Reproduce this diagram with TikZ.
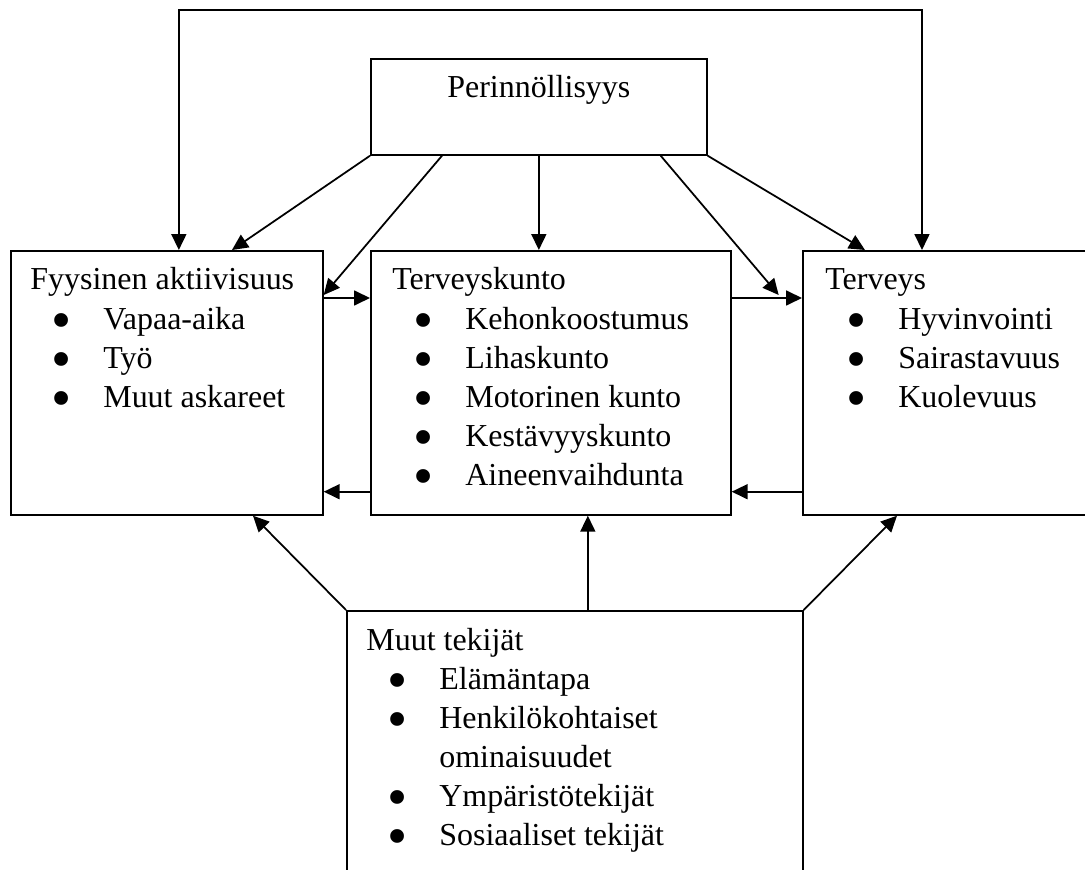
\documentclass[tikz,border=0pt]{standalone}
\usepackage{fontspec}
\setmainfont{Liberation Serif}
\usetikzlibrary{arrows.meta}
\newcommand{\itm}[1]{\\\hspace*{0.42cm}\makebox[1.04cm][l]{\smash{\raisebox{-6.2pt}{\scalebox{1.8}{\textbullet}}}}#1}
\newcommand{\more}[1]{\\\hspace*{1.46cm}#1}
\newcommand{\boxlist}[2]{\begin{tabular}[t]{@{}l@{}}#1#2\end{tabular}}

\begin{document}
\begin{tikzpicture}[x=0.02cm,y=-0.02cm,>={Triangle[length=0.32cm,width=0.3cm]},
  box/.style={draw,line width=1pt,rectangle,inner sep=0pt,anchor=north west},
  txt/.style={anchor=base west,inner sep=0pt,font=\fontsize{18.2}{22.2}\selectfont},
  link/.style={->,line width=1pt}]
  \useasboundingbox (0,0) rectangle (1085,869);
  \clip (0,0) rectangle (1085,869);
  % boxes
  \node[box,minimum width=6.72cm,minimum height=1.92cm] (per) at (370,58) {};
  \node[box,minimum width=6.24cm,minimum height=5.28cm] (fa) at (10,250) {};
  \node[box,minimum width=7.2cm,minimum height=5.28cm] (tk) at (370,250) {};
  \node[box,minimum width=6cm,minimum height=5.28cm] (ter) at (802,250) {};
  \node[box,minimum width=9.12cm,minimum height=6cm] (muut) at (346,610) {};
  \coordinate (top) at (540,10);
  \coordinate (gap) at ([xshift=0.94cm,yshift=-0.9cm]tk.north east);
  % texts
  \node[txt,anchor=base] at ([yshift=-0.8cm]per.north) {Perinnöllisyys};
  \node[txt] at ([xshift=0.4cm,yshift=-0.8cm]fa.north west)
    {\boxlist{Fyysinen aktiivisuus}{\itm{Vapaa-aika}\itm{Työ}\itm{Muut askareet}}};
  \node[txt] at ([xshift=0.44cm,yshift=-0.8cm]tk.north west)
    {\boxlist{Terveyskunto}{\itm{Kehonkoostumus}\itm{Lihaskunto}\itm{Motorinen kunto}%
      \itm{Kestävyyskunto}\itm{Aineenvaihdunta}}};
  \node[txt] at ([xshift=0.46cm,yshift=-0.8cm]ter.north west)
    {\boxlist{Terveys}{\itm{Hyvinvointi}\itm{Sairastavuus}\itm{Kuolevuus}}};
  \node[txt] at ([xshift=0.4cm,yshift=-0.8cm]muut.north west)
    {\boxlist{Muut tekijät}{\itm{Elämäntapa}\itm{Henkilökohtaiset}\more{ominaisuudet}%
      \itm{Ympäristötekijät}\itm{Sosiaaliset tekijät}}};
  % arrows
  \draw[link,<->] ([xshift=0.24cm]fa.north) |- (top) -| ([xshift=2.4cm]ter.north west);
  \draw[link] (per.south west) -- ([xshift=4.44cm]fa.north west);
  \draw[link] ([xshift=1.44cm]per.south west) -- ([yshift=-0.9cm]fa.north east);
  \draw[link] (per.south) -- (per.south |- tk.north);
  \draw[link] ([xshift=-0.94cm]per.south east) -- (gap);
  \draw[link] (per.south east) -- ([xshift=1.26cm]ter.north west);
  \draw[link] ([yshift=-0.96cm]fa.north east) -- ([yshift=-0.96cm]tk.north west);
  \draw[link] ([yshift=-0.96cm]tk.north east) -- ([yshift=-0.96cm]ter.north west);
  \draw[link] ([yshift=0.48cm]tk.south west) -- ([yshift=0.48cm]fa.south east);
  \draw[link] ([yshift=0.48cm]ter.south west) -- ([yshift=0.48cm]tk.south east);
  \draw[link] (muut.north west) -- ([xshift=4.86cm]fa.south west);
  \draw[link] ([xshift=0.74cm]tk.south |- muut.north) -- ([xshift=0.74cm]tk.south);
  \draw[link] (muut.north east) -- ([xshift=1.9cm]ter.south west);
\end{tikzpicture}
\end{document}
